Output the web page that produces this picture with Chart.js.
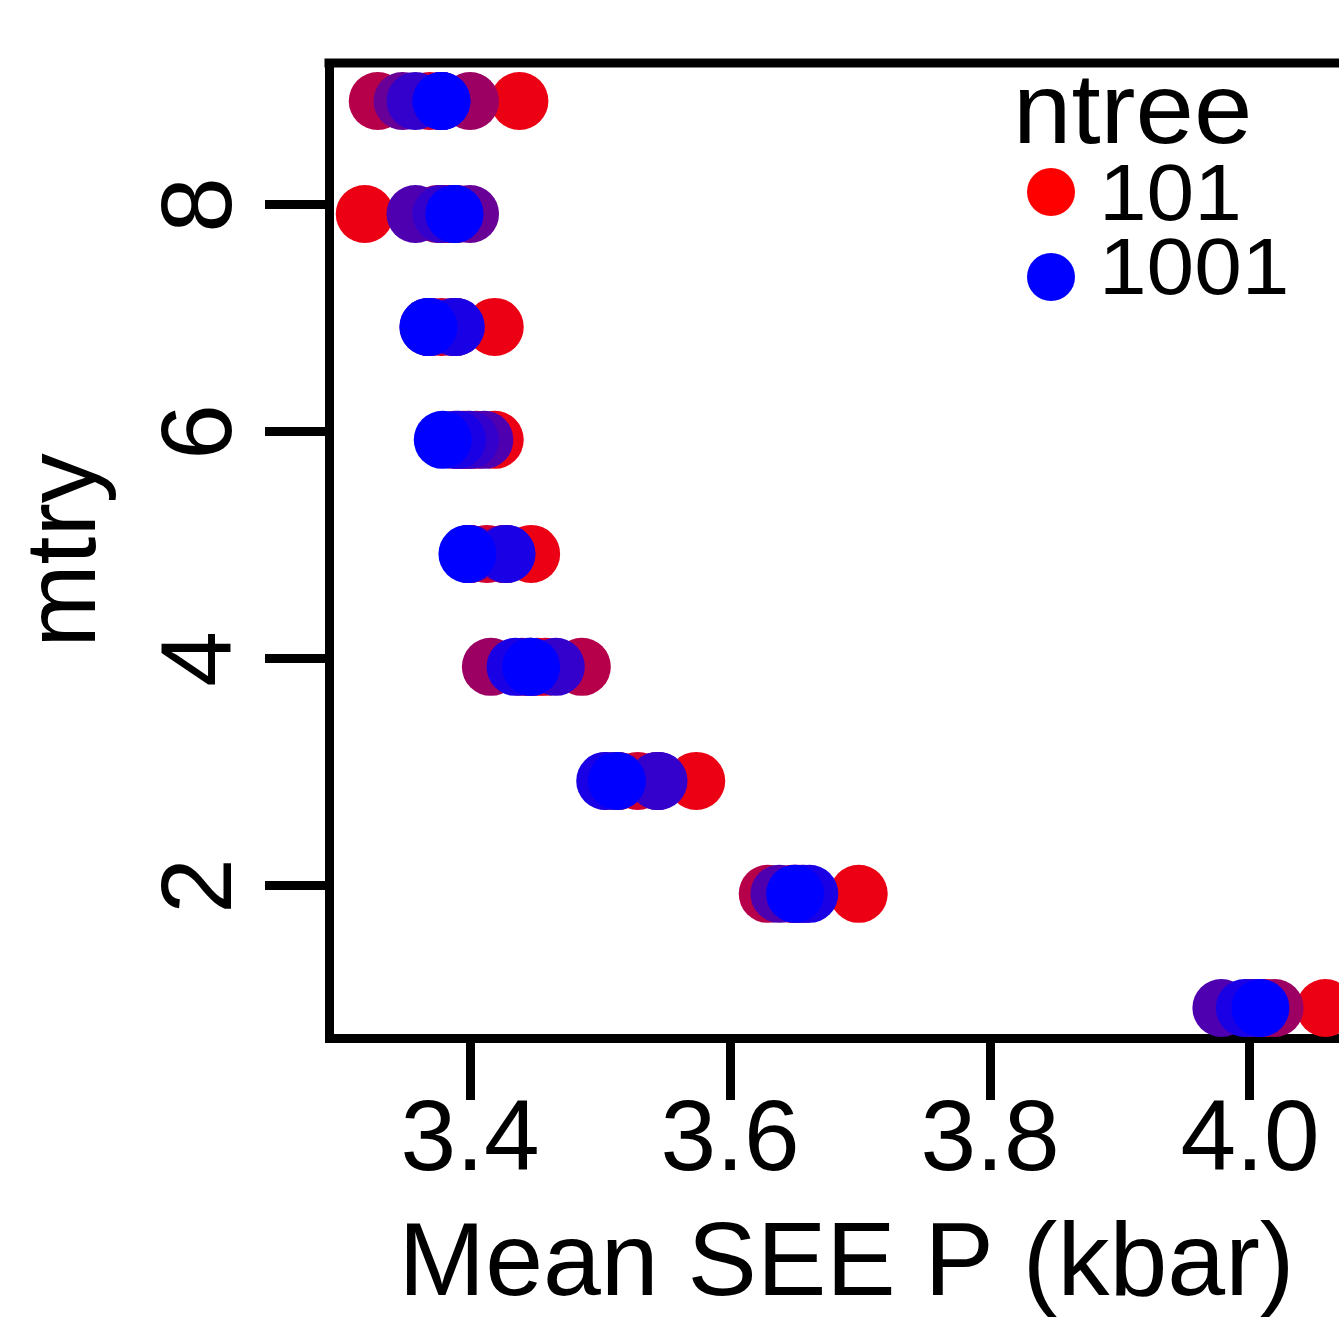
<!DOCTYPE html>
<html>
<head>
<meta charset="utf-8">
<script src="https://cdn.jsdelivr.net/npm/chart.js@4.4.1/dist/chart.umd.min.js"></script>
<style>
  html, body { margin: 0; padding: 0; background: #fff; overflow: hidden; }
  #wrap { width: 1339px; height: 1322px; overflow: hidden; position: relative; }
  canvas { display: block; }
</style>
</head>
<body>
<div id="wrap"><canvas id="c" width="1370" height="1322" style="width:1370px;height:1322px"></canvas></div>
<script>
// ---------------- data ----------------
const ntree = [101, 201, 301, 401, 501, 601, 701, 801, 901, 1001];
const mtryY = [0.925, 1.93, 2.925, 3.93, 4.925, 5.93, 6.925, 7.92, 8.915]; // row positions, mtry 1..9
const xTicks = [3.4, 3.6, 3.8, 4.0];
const yTicks = [2, 4, 6, 8];

// Mean SEE P (kbar) for mtry = 1..9
const see101  = [4.058, 3.699, 3.574, 3.452, 3.447, 3.419, 3.419, 3.319, 3.438];
const see201  = [4.012, 3.648, 3.529, 3.458, 3.413, 3.405, 3.378, 3.385, 3.369];
const see301  = [4.008, 3.629, 3.514, 3.486, 3.427, 3.395, 3.388, 3.380, 3.329];
const see401  = [4.019, 3.652, 3.505, 3.416, 3.399, 3.388, 3.369, 3.390, 3.400];
const see501  = [4.002, 3.655, 3.544, 3.440, 3.426, 3.398, 3.389, 3.375, 3.378];
const see601  = [4.000, 3.650, 3.513, 3.445, 3.400, 3.392, 3.368, 3.400, 3.348];
const see701  = [3.978, 3.638, 3.544, 3.447, 3.428, 3.411, 3.387, 3.358, 3.378];
const see801  = [4.005, 3.657, 3.545, 3.466, 3.399, 3.400, 3.369, 3.378, 3.358];
const see901  = [3.996, 3.661, 3.504, 3.435, 3.428, 3.390, 3.389, 3.388, 3.378];
const see1001 = [4.008, 3.650, 3.513, 3.447, 3.398, 3.379, 3.368, 3.388, 3.378];
const seeByNtree = [see101, see201, see301, see401, see501, see601, see701, see801, see901, see1001];

// ---------------- styling ----------------
const FONT = '"Liberation Sans", Arial, Helvetica, sans-serif';
Chart.defaults.font.family = FONT;
Chart.defaults.color = '#000';

function rampColor(t) {
  return 'rgb(' + Math.round(255 * (1 - t)) + ',0,' + Math.round(255 * t) + ')';
}
function ntreeT(n) {
  return (n - ntree[0]) / (ntree[ntree.length - 1] - ntree[0]);
}
function pointColor(n) { return rampColor(0.08 + 0.92 * ntreeT(n)); }
function legendColor(n) { return rampColor(ntreeT(n)); }

const datasets = ntree.map((n, i) => ({
  label: String(n),
  data: seeByNtree[i].map((v, r) => ({ x: v, y: mtryY[r] })),
  backgroundColor: pointColor(n),
  borderWidth: 0,
  pointRadius: 29,
  pointHoverRadius: 29,
  clip: false
})).reverse(); // largest ntree drawn on top

const boxAndLegend = {
  id: 'boxAndLegend',
  afterDraw(chart) {
    const { ctx, chartArea } = chart;
    ctx.save();
    // top and right sides of the box (right side lies beyond the cropped edge)
    ctx.strokeStyle = '#000';
    ctx.lineWidth = 9;
    ctx.beginPath();
    ctx.moveTo(chartArea.left - 4.5, chartArea.top);
    ctx.lineTo(chartArea.right + 4.5, chartArea.top);
    ctx.moveTo(chartArea.right, chartArea.top);
    ctx.lineTo(chartArea.right, chartArea.bottom);
    ctx.stroke();

    // legend
    ctx.fillStyle = '#000';
    ctx.textBaseline = 'alphabetic';
    ctx.textAlign = 'left';
    ctx.font = '100px ' + FONT;
    ctx.save();
    ctx.translate(1013, 143);
    ctx.scale(1.05, 1);
    ctx.fillText('ntree', 0, 0);
    ctx.restore();

    const items = [
      { n: ntree[0], cy: 192, base: 220 },
      { n: ntree[ntree.length - 1], cy: 277, base: 294 }
    ];
    items.forEach(it => {
      ctx.fillStyle = legendColor(it.n);
      ctx.beginPath();
      ctx.arc(1051, it.cy, 24, 0, Math.PI * 2);
      ctx.fill();
      ctx.fillStyle = '#000';
      ctx.font = '80px ' + FONT;
      ctx.save();
      ctx.translate(1099, it.base);
      ctx.scale(1.07, 1);
      ctx.fillText(String(it.n), 0, 0);
      ctx.restore();
    });
    ctx.restore();
  }
};

new Chart(document.getElementById('c'), {
  type: 'scatter',
  data: { datasets },
  options: {
    responsive: false,
    maintainAspectRatio: false,
    animation: false,
    devicePixelRatio: 1,
    events: [],
    layout: { autoPadding: false, padding: { top: 63, right: 6, bottom: 0, left: 0 } },
    plugins: { legend: { display: false }, tooltip: { enabled: false } },
    scales: {
      x: {
        type: 'linear',
        position: 'bottom',
        min: 3.2915,
        max: 4.0877,
        z: 1,
        afterBuildTicks: s => { s.ticks = xTicks.map(v => ({ value: v })); },
        afterFit: s => { s.height = 284; s.paddingLeft = 0; s.paddingRight = 0; },
        grid: { display: true, drawOnChartArea: false, drawTicks: true, tickLength: 62, lineWidth: 9, color: '#000' },
        border: { display: true, width: 9, color: '#000' },
        ticks: {
          color: '#000', autoSkip: false, maxRotation: 0, padding: 2,
          font: { family: FONT, size: 100, lineHeight: 0.8 },
          callback: v => Number(v).toFixed(1)
        },
        title: {
          display: true, text: 'Mean SEE P (kbar)', color: '#000',
          font: { family: FONT, size: 104, lineHeight: 1 },
          padding: { top: 0, bottom: 4 }
        }
      },
      y: {
        type: 'linear',
        position: 'left',
        min: 0.66,
        max: 9.25,
        z: 1,
        afterBuildTicks: s => { s.ticks = yTicks.map(v => ({ value: v })); },
        afterFit: s => { s.width = 329; s.paddingTop = 0; s.paddingBottom = 0; },
        grid: { display: true, drawOnChartArea: false, drawTicks: true, tickLength: 64, lineWidth: 9, color: '#000' },
        border: { display: true, width: 9, color: '#000' },
        ticks: {
          color: '#000', autoSkip: false, minRotation: 90, maxRotation: 90,
          crossAlign: 'center', padding: 34,
          font: { family: FONT, size: 100, lineHeight: 1 },
          callback: v => String(v)
        },
        title: {
          display: true, text: 'mtry', color: '#000',
          font: { family: FONT, size: 100, lineHeight: 1 },
          padding: { top: 17, bottom: 0 }
        }
      }
    }
  },
  plugins: [boxAndLegend]
});
</script>
</body>
</html>
